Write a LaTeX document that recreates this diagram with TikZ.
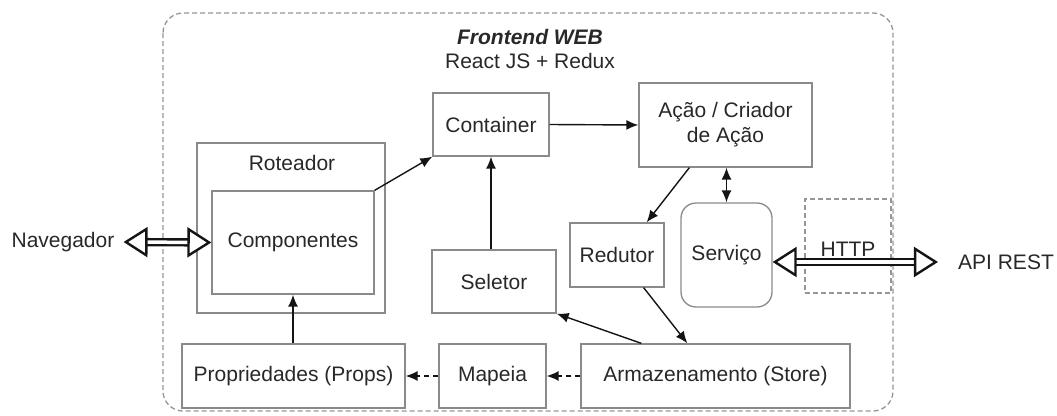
\documentclass[tikz,border=0pt]{standalone}
\usepackage{fontspec}
\setmainfont{Liberation Sans}
\usetikzlibrary{arrows.meta,calc}

\definecolor{boxgray}{RGB}{138,138,138}
\definecolor{dashgray}{RGB}{150,150,150}
\definecolor{txt}{RGB}{40,40,40}
\definecolor{ink}{RGB}{20,20,20}

\tikzset{
  box/.style={draw=boxgray, line width=1.3pt, text=txt, inner sep=0pt, align=center},
  lbl/.style={text=txt, inner sep=0pt},
  conn/.style={draw=ink, line width=1.4pt, -{Latex[length=12pt,width=10pt]}},
  biconn/.style={draw=ink, line width=1.4pt, {Latex[length=12pt,width=10pt]}-{Latex[length=12pt,width=10pt]}},
  dconn/.style={conn, dash pattern=on 5pt off 4pt},
  fat/.style={draw=ink, double=white, line width=2.4pt, double distance=3.5pt,
    {Triangle[open, fill=white, length=24pt, width=30pt, line width=2.4pt]}-{Triangle[open, fill=white, length=24pt, width=30pt, line width=2.4pt]}},
}

\begin{document}
\begin{tikzpicture}[x=1pt, y=-1pt, font=\fontsize{21}{25}\selectfont]
\useasboundingbox (0,0) rectangle (1057,415);

% frontend boundary
\draw[dashgray, line width=1.3pt, dash pattern=on 5pt off 3pt, rounded corners=20pt]
  (163,13) rectangle (893,411);
\node[lbl, font=\fontsize{21}{25}\selectfont\bfseries\itshape] (title) at (530,37) {Frontend WEB};
\node[lbl] (subtitle) at (530,61) {React JS + Redux};

% router and components
\node[box, minimum width=188pt, minimum height=170pt] (rot) at (291,228) {};
\node[lbl, anchor=center] (rotlbl) at (292,163) {Roteador};
\node[box, minimum width=162pt, minimum height=103pt] (comp) at (293,242.5) {Componentes};

% upper row
\node[box, minimum width=116pt, minimum height=63pt] (cont) at (491,124.5) {Container};
\node[box, minimum width=173pt, minimum height=84pt] (acao) at (725.5,125) {Ação / Criador\\de Ação};

% middle row
\node[box, minimum width=124pt, minimum height=63pt] (sel) at (494,281.5) {Seletor};
\node[box, minimum width=94pt, minimum height=64pt] (red) at (617,255) {Redutor};
\node[box, rounded corners=15pt, minimum width=91pt, minimum height=104pt] (serv) at (726.5,255) {Serviço};
\node[draw=dashgray, line width=1.3pt, dash pattern=on 5pt off 3pt, minimum width=86pt, minimum height=94pt, inner sep=0pt] (http) at (848,246) {};
\node[lbl] (httplbl) at (848,249) {HTTP};

% bottom row
\node[box, minimum width=223pt, minimum height=64pt] (prop) at (293.5,376) {Propriedades (Props)};
\node[box, minimum width=107pt, minimum height=64pt] (map) at (492.5,376) {Mapeia};
\node[box, minimum width=269pt, minimum height=64pt] (store) at (715.5,376) {Armazenamento (Store)};

% outside actors
\node[lbl] (nav) at (63,242) {Navegador};
\node[lbl] (api) at (1006,262) {API REST};

% connectors
\draw[conn] (comp.north east) -- (cont.south west);
\draw[conn] (sel.north -| cont.south) -- (cont.south);
\draw[conn] (cont.east) -- (acao.west);
\draw[conn] ($(acao.south west)+(51,0)$) -- ($(red.north east)+(-18,0)$);
\draw[biconn] (acao.south -| serv.north) -- (serv.north);
\draw[conn] ($(red.south east)+(-21,0)$) -- ($(store.north west)+(107,0)$);
\draw[conn] ($(store.north west)+(61,0)$) -- (sel.south east);
\draw[conn] (prop.north -| comp.south) -- (comp.south);
\draw[dconn] (store.west) -- (map.east);
\draw[dconn] (map.west) -- (prop.east);

% fat two-way links
\coordinate (navtip) at ($(nav.east)+(9,0)$);
\draw[fat] (navtip) -- (comp.west);
\coordinate (servtip) at (serv.east |- api.west);
\coordinate (apitip) at ($(api.west)+(-20,0)$);
\draw[fat] (servtip) -- (apitip);
\end{tikzpicture}
\end{document}
